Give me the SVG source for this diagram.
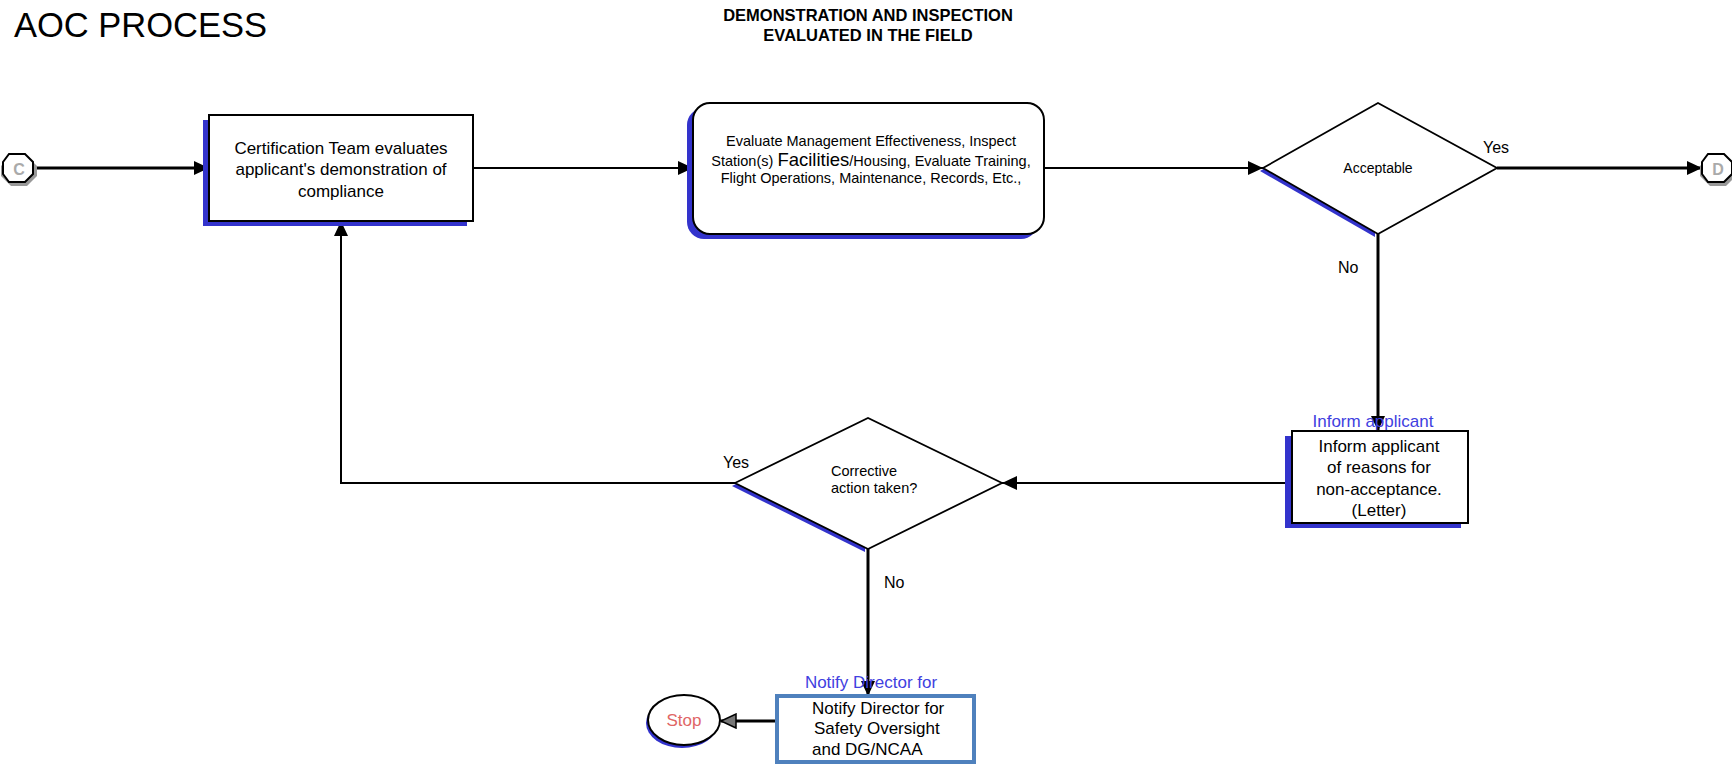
<svg xmlns="http://www.w3.org/2000/svg" width="1732" height="769" viewBox="0 0 1732 769">
<style>
text{font-family:"Liberation Sans",Arial,sans-serif;fill:#000}
.box{fill:#fff;stroke:#000;stroke-width:2}
.shadow{fill:#3333cc;stroke:none}
.dia{fill:#fff;stroke:#000;stroke-width:1.8}
.oct{fill:#fff;stroke:#000;stroke-width:2}
.octsh{fill:#999;stroke:none}
.conn{fill:none;stroke:#000;stroke-width:2}
.thick{stroke-width:3}
.lbl{font-size:16px}
.nt{font-size:17px}
.blue{fill:#4040e0;font-size:17px}
.letter{font-size:16px;font-weight:bold;fill:#aaaaaa}
</style>
<defs>
<marker id="arr" markerUnits="userSpaceOnUse" markerWidth="16" markerHeight="14" refX="15" refY="7" orient="auto">
<path d="M0,0 L15,7 L0,14 Z" fill="#000"/>
</marker>
<marker id="arr2" markerUnits="userSpaceOnUse" markerWidth="18" markerHeight="16" refX="16" refY="8" orient="auto">
<path d="M1,1 L16,8 L1,15 Z" fill="#777" stroke="#000" stroke-width="1.5"/>
</marker>
</defs>

<text x="14" y="37" style="font-size:34.5px">AOC PROCESS</text>
<text x="868" y="21" text-anchor="middle" style="font-size:16.5px;font-weight:bold">DEMONSTRATION AND INSPECTION</text>
<text x="868" y="41" text-anchor="middle" style="font-size:16.5px;font-weight:bold">EVALUATED IN THE FIELD</text>

<g id="connectors">
<line class="conn thick" x1="34" y1="168" x2="209" y2="168" marker-end="url(#arr)"/>
<line class="conn" x1="473" y1="168" x2="693" y2="168" marker-end="url(#arr)"/>
<line class="conn" x1="1044" y1="168" x2="1263" y2="168" marker-end="url(#arr)"/>
<line class="conn thick" x1="1497" y1="168" x2="1702" y2="168" marker-end="url(#arr)"/>
<line class="conn thick" x1="1378" y1="234" x2="1378" y2="431" marker-end="url(#arr)"/>
<line class="conn" x1="1292" y1="483" x2="1002" y2="483" marker-end="url(#arr)"/>
<polyline class="conn" points="735,483 341,483 341,221" marker-end="url(#arr)"/>
<line class="conn thick" x1="868" y1="549" x2="868" y2="696" marker-end="url(#arr)"/>
<line class="conn thick" x1="775" y1="721" x2="721" y2="721" marker-end="url(#arr2)"/>
<text x="1483" y="153" class="lbl">Yes</text>
<text x="1338" y="273" class="lbl">No</text>
<text x="723" y="468" class="lbl">Yes</text>
<text x="884" y="588" class="lbl">No</text>
</g>

<g id="start-c">
<polygon class="octsh" points="11,156 27,156 37,166 37,176 27,186 11,186 1,176 1,166"/>
<polygon class="oct" points="9,154 25,154 33,162 33,174 25,182 9,182 3,174 3,162"/>
<text x="19" y="175" text-anchor="middle" class="letter">C</text>
</g>

<g id="evaluate-demo">
<rect class="shadow" x="203" y="120" width="264" height="106"/>
<rect class="box" x="209" y="115" width="264" height="106"/>
<text x="341" y="154" text-anchor="middle" class="nt">Certification Team evaluates</text>
<text x="341" y="175" text-anchor="middle" class="nt">applicant's demonstration of</text>
<text x="341" y="197" text-anchor="middle" class="nt">compliance</text>
</g>

<g id="field-inspection">
<rect class="shadow" x="687" y="108" width="351" height="131" rx="17"/>
<rect class="box" x="693" y="103" width="351" height="131" rx="17"/>
<text x="871" y="146" text-anchor="middle" style="font-size:14.5px">Evaluate Management Effectiveness, Inspect</text>
<text x="871" y="166" text-anchor="middle" style="font-size:14.5px">Station(s) <tspan style="font-size:18.5px">Facilities</tspan>/Housing, Evaluate Training,</text>
<text x="871" y="183" text-anchor="middle" style="font-size:14.5px">Flight Operations, Maintenance, Records, Etc.,</text>
</g>

<g id="acceptable">
<polygon class="shadow" points="1260,171 1375,106 1375,237"/>
<polygon class="dia" points="1263,168 1378,103 1497,168 1378,234"/>
<text x="1378" y="173" text-anchor="middle" style="font-size:14px">Acceptable</text>
</g>

<g id="end-d">
<polygon class="octsh" points="1710,156 1726,156 1736,166 1736,176 1726,186 1710,186 1700,176 1700,166"/>
<polygon class="oct" points="1708,154 1724,154 1732,162 1732,174 1724,182 1708,182 1702,174 1702,162"/>
<text x="1718" y="175" text-anchor="middle" class="letter">D</text>
</g>

<g id="inform-applicant">
<text x="1373" y="427" text-anchor="middle" class="blue">Inform applicant</text>
<rect class="shadow" x="1285" y="436" width="176" height="92"/>
<rect class="box" x="1292" y="431" width="176" height="92"/>
<text x="1379" y="452" text-anchor="middle" class="nt">Inform applicant</text>
<text x="1379" y="473" text-anchor="middle" class="nt">of reasons for</text>
<text x="1379" y="495" text-anchor="middle" class="nt">non-acceptance.</text>
<text x="1379" y="516" text-anchor="middle" class="nt">(Letter)</text>
</g>

<g id="corrective-action">
<polygon class="shadow" points="732,486 865,552 865,420"/>
<polygon class="dia" points="735,483 868,418 1002,483 868,549"/>
<text x="831" y="476" style="font-size:14.5px">Corrective</text>
<text x="831" y="493" style="font-size:14.5px">action taken?</text>
</g>

<g id="notify-director">
<text x="871" y="688" text-anchor="middle" class="blue">Notify Director for</text>
<rect x="777" y="696" width="197" height="66" fill="#fff" stroke="#4f81bd" stroke-width="4"/>
<text x="812" y="714" class="nt">Notify Director for</text>
<text x="814" y="734" class="nt">Safety Oversight</text>
<text x="812" y="755" class="nt">and DG/NCAA</text>
</g>

<g id="stop">
<ellipse cx="682" cy="723" rx="36" ry="25" fill="#3333cc"/>
<ellipse cx="684" cy="720" rx="36" ry="25" fill="#fff" stroke="#000" stroke-width="2"/>
<text x="684" y="726" text-anchor="middle" style="font-size:17px;fill:#e06666">Stop</text>
</g>
</svg>
